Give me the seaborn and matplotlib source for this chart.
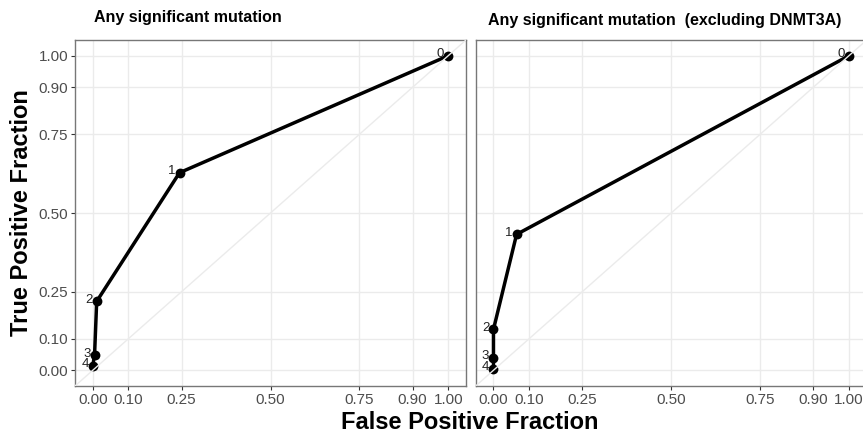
import matplotlib
matplotlib.use("Agg")
import matplotlib.pyplot as plt
import seaborn as sns
import pandas as pd

sns.set_theme(style="white")
plt.rcParams["font.family"] = ["Liberation Sans", "DejaVu Sans"]

# ROC points (cutoff = number of mutations)
cutoffs = ["0", "1", "2", "3", "4"]
fpf_all = [1.00, 0.244, 0.011, 0.005, 0.000]
tpf_all = [1.00, 0.628, 0.219, 0.048, 0.015]
fpf_nodnmt = [1.00, 0.065, 0.000, 0.000, 0.000]
tpf_nodnmt = [1.00, 0.432, 0.130, 0.040, 0.005]

titles = ["Any significant mutation", "Any significant mutation  (excluding DNMT3A)"]
breaks = [0, 0.1, 0.25, 0.5, 0.75, 0.9, 1.0]
break_labels = ["0.00", "0.10", "0.25", "0.50", "0.75", "0.90", "1.00"]

W, H = 863, 436
fig = plt.figure(figsize=(W / 100, H / 100), dpi=100)

panel_w, panel_top, panel_bot = 391, 40, 386
lefts = [75, 475.7]

datasets = [
    pd.DataFrame({"cut": cutoffs, "fpf": fpf_all, "tpf": tpf_all}),
    pd.DataFrame({"cut": cutoffs, "fpf": fpf_nodnmt, "tpf": tpf_nodnmt}),
]
title_pos = [(94, 17.5), (488, 21)]

grid_c = "#ebebeb"
for i, (df, left) in enumerate(zip(datasets, lefts)):
    ax = fig.add_axes([left / W, 1 - panel_bot / H, panel_w / W, (panel_bot - panel_top) / H])
    ax.set_xlim(-0.05, 1.05)
    ax.set_ylim(-0.05, 1.05)
    ax.set_xticks(breaks)
    ax.set_xticklabels(break_labels)
    ax.set_yticks(breaks)
    if i == 0:
        ax.set_yticklabels(break_labels)
        ax.tick_params(axis="y", length=3, width=0.8, color="#333333",
                       labelsize=11, labelcolor="#4d4d4d", left=True, pad=2)
    else:
        ax.set_yticklabels([])
        ax.tick_params(axis="y", left=False, length=0)
    ax.tick_params(axis="x", length=3, width=0.8, color="#333333",
                   labelsize=11, labelcolor="#4d4d4d", bottom=True, pad=2)
    ax.grid(True, color=grid_c, linewidth=1.0)
    ax.set_axisbelow(True)
    for s in ax.spines.values():
        s.set_color("#777777")
        s.set_linewidth(1.0)

    # ROC path in cutoff order (no aggregation over repeated x values)
    sns.lineplot(data=df, x="fpf", y="tpf", sort=False, estimator=None,
                 color="black", linewidth=2.5, ax=ax, zorder=3)
    sns.scatterplot(data=df, x="fpf", y="tpf", color="black", s=50,
                    edgecolor="black", linewidth=0, ax=ax, zorder=4)
    # reference diagonal
    ax.plot([-0.05, 1.05], [-0.05, 1.05], color=grid_c, linewidth=1.0, zorder=5)

    for _, r in df.iterrows():
        ax.annotate(r["cut"], (r["fpf"], r["tpf"]), xytext=(-3, 1),
                    textcoords="offset points", ha="right", va="center",
                    fontsize=9.5, color="#222222", zorder=6)
    ax.set_xlabel("")
    ax.set_ylabel("")
    tx, ty = title_pos[i]
    fig.text(tx / W, 1 - ty / H, titles[i], fontsize=11.5, fontweight="bold",
             ha="left", va="center", color="black")

fig.text(470 / W, 1 - 422 / H, "False Positive Fraction", fontsize=17,
         fontweight="bold", ha="center", va="center", color="black")
fig.text(22 / W, 1 - 213 / H, "True Positive Fraction", fontsize=17,
         fontweight="bold", ha="center", va="center", rotation=90, color="black")

fig.savefig("out.png", dpi=100)
